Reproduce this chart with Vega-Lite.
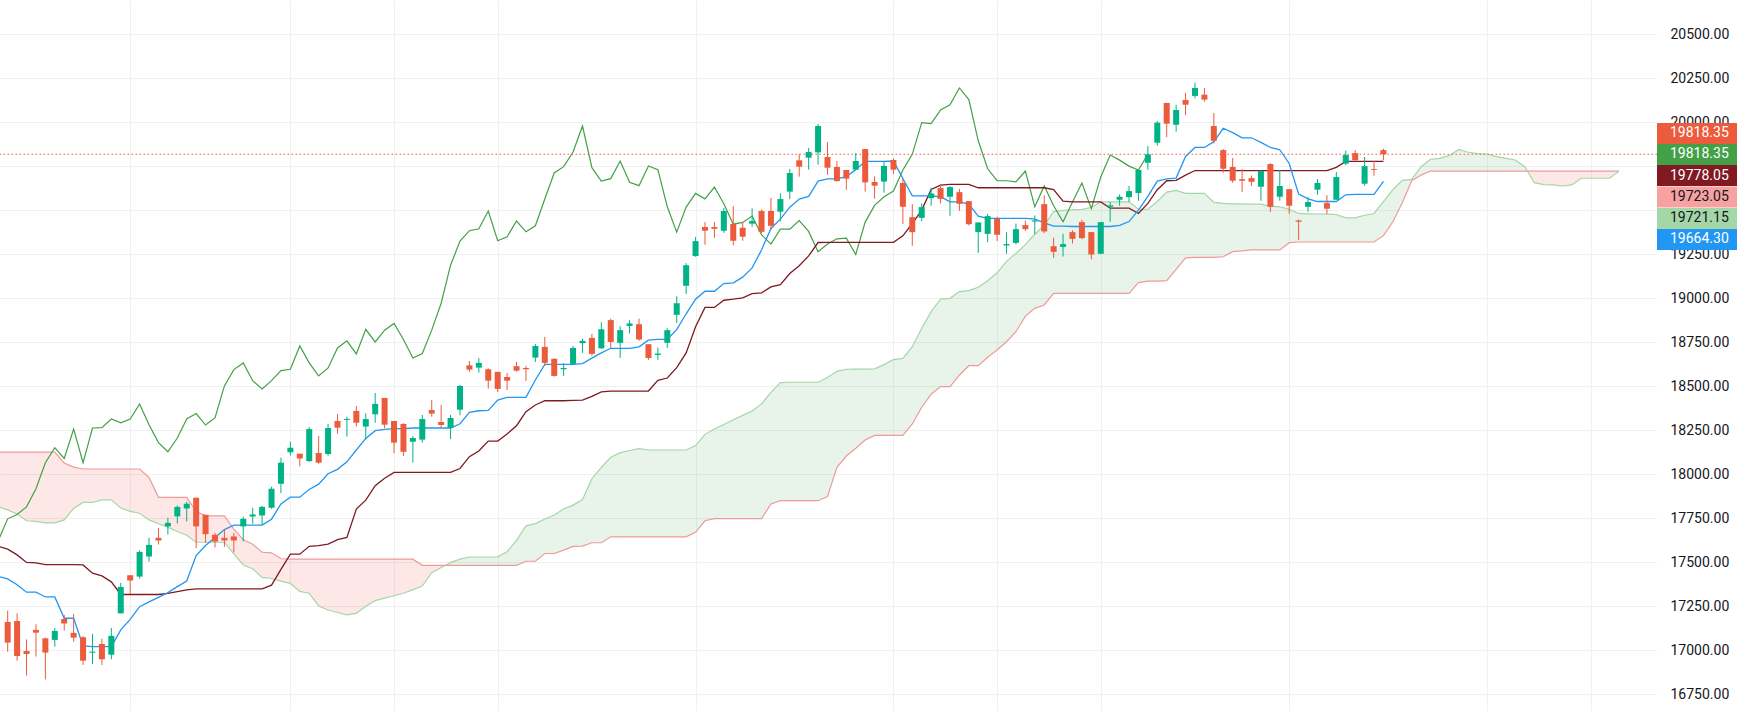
{
"$schema":"https://vega.github.io/schema/vega-lite/v6.json",
"width":1657,"height":711,"autosize":"none",
"padding":{"left":0,"top":0,"right":95,"bottom":0},
"background":"#ffffff",
"config":{"view":{"stroke":null}},
"datasets":{
"candles":[
{"i":0,"o":17161,"h":17226,"l":16992,"c":17044},{"i":1,"o":17167,"h":17210,"l":16941,"c":16968},{"i":2,"o":16996,"h":17062,"l":16856,"c":16979},{"i":3,"o":17116,"h":17148,"l":16964,"c":17100},{"i":4,"o":17068,"h":17072,"l":16835,"c":16987},{"i":5,"o":17059,"h":17127,"l":17021,"c":17110},{"i":6,"o":17178,"h":17201,"l":17112,"c":17152},{"i":7,"o":17099,"h":17207,"l":17049,"c":17072},{"i":8,"o":17074,"h":17081,"l":16917,"c":16941},{"i":9,"o":16986,"h":17093,"l":16922,"c":16992},
{"i":10,"o":17036,"h":17066,"l":16917,"c":16949},{"i":11,"o":16975,"h":17127,"l":16949,"c":17082},{"i":12,"o":17210,"h":17383,"l":17210,"c":17360},{"i":13,"o":17427,"h":17427,"l":17320,"c":17396},{"i":14,"o":17419,"h":17567,"l":17408,"c":17559},{"i":15,"o":17533,"h":17639,"l":17504,"c":17599},{"i":16,"o":17639,"h":17696,"l":17601,"c":17624},{"i":17,"o":17704,"h":17753,"l":17658,"c":17724},{"i":18,"o":17761,"h":17823,"l":17721,"c":17815},{"i":19,"o":17806,"h":17844,"l":17732,"c":17833},
{"i":20,"o":17867,"h":17867,"l":17580,"c":17704},{"i":21,"o":17770,"h":17770,"l":17611,"c":17660},{"i":22,"o":17656,"h":17667,"l":17584,"c":17618},{"i":23,"o":17639,"h":17685,"l":17588,"c":17624},{"i":24,"o":17647,"h":17666,"l":17556,"c":17624},{"i":25,"o":17704,"h":17759,"l":17618,"c":17747},{"i":26,"o":17760,"h":17810,"l":17719,"c":17772},{"i":27,"o":17766,"h":17821,"l":17713,"c":17815},{"i":28,"o":17810,"h":17929,"l":17804,"c":17918},{"i":29,"o":17946,"h":18094,"l":17893,"c":18066},
{"i":30,"o":18125,"h":18185,"l":18107,"c":18151},{"i":31,"o":18117,"h":18117,"l":18045,"c":18090},{"i":32,"o":18075,"h":18269,"l":18070,"c":18257},{"i":33,"o":18121,"h":18217,"l":18060,"c":18066},{"i":34,"o":18115,"h":18286,"l":18106,"c":18263},{"i":35,"o":18303,"h":18343,"l":18231,"c":18265},{"i":36,"o":18309,"h":18327,"l":18214,"c":18315},{"i":37,"o":18360,"h":18388,"l":18271,"c":18293},{"i":38,"o":18271,"h":18346,"l":18198,"c":18314},{"i":39,"o":18341,"h":18462,"l":18293,"c":18400},
{"i":40,"o":18434,"h":18434,"l":18263,"c":18282},{"i":41,"o":18303,"h":18303,"l":18119,"c":18180},{"i":42,"o":18286,"h":18290,"l":18104,"c":18128},{"i":43,"o":18185,"h":18217,"l":18066,"c":18206},{"i":44,"o":18197,"h":18337,"l":18180,"c":18314},{"i":45,"o":18365,"h":18422,"l":18327,"c":18345},{"i":46,"o":18297,"h":18394,"l":18267,"c":18280},{"i":47,"o":18265,"h":18337,"l":18200,"c":18320},{"i":48,"o":18367,"h":18508,"l":18335,"c":18502},{"i":49,"o":18619,"h":18644,"l":18582,"c":18595},
{"i":50,"o":18606,"h":18661,"l":18578,"c":18633},{"i":51,"o":18597,"h":18602,"l":18487,"c":18532},{"i":52,"o":18582,"h":18582,"l":18468,"c":18485},{"i":53,"o":18553,"h":18576,"l":18479,"c":18532},{"i":54,"o":18614,"h":18638,"l":18583,"c":18589},{"i":55,"o":18604,"h":18616,"l":18530,"c":18597},{"i":56,"o":18663,"h":18741,"l":18638,"c":18729},{"i":57,"o":18724,"h":18781,"l":18616,"c":18633},{"i":58,"o":18656,"h":18660,"l":18555,"c":18559},{"i":59,"o":18597,"h":18631,"l":18559,"c":18604},
{"i":60,"o":18627,"h":18729,"l":18627,"c":18718},{"i":61,"o":18745,"h":18769,"l":18690,"c":18758},{"i":62,"o":18775,"h":18798,"l":18673,"c":18684},{"i":63,"o":18716,"h":18864,"l":18712,"c":18824},{"i":64,"o":18876,"h":18885,"l":18718,"c":18752},{"i":65,"o":18747,"h":18841,"l":18661,"c":18819},{"i":66,"o":18843,"h":18876,"l":18800,"c":18857},{"i":67,"o":18853,"h":18885,"l":18758,"c":18766},{"i":68,"o":18739,"h":18739,"l":18650,"c":18661},{"i":69,"o":18678,"h":18720,"l":18650,"c":18686},
{"i":70,"o":18747,"h":18830,"l":18718,"c":18819},{"i":71,"o":18906,"h":19012,"l":18860,"c":18972},{"i":72,"o":19071,"h":19200,"l":19025,"c":19188},{"i":73,"o":19240,"h":19348,"l":19236,"c":19325},{"i":74,"o":19405,"h":19433,"l":19304,"c":19384},{"i":75,"o":19405,"h":19433,"l":19344,"c":19395},{"i":76,"o":19384,"h":19513,"l":19372,"c":19496},{"i":77,"o":19422,"h":19524,"l":19302,"c":19327},{"i":78,"o":19401,"h":19433,"l":19327,"c":19350},{"i":79,"o":19424,"h":19511,"l":19407,"c":19439},
{"i":80,"o":19496,"h":19505,"l":19372,"c":19378},{"i":81,"o":19496,"h":19570,"l":19388,"c":19412},{"i":82,"o":19492,"h":19596,"l":19437,"c":19564},{"i":83,"o":19606,"h":19735,"l":19564,"c":19712},{"i":84,"o":19784,"h":19820,"l":19691,"c":19748},{"i":85,"o":19799,"h":19854,"l":19731,"c":19831},{"i":86,"o":19829,"h":19991,"l":19759,"c":19979},{"i":87,"o":19803,"h":19888,"l":19702,"c":19742},{"i":88,"o":19746,"h":19780,"l":19664,"c":19666},{"i":89,"o":19729,"h":19729,"l":19617,"c":19680},
{"i":90,"o":19731,"h":19826,"l":19731,"c":19780},{"i":91,"o":19848,"h":19848,"l":19606,"c":19659},{"i":92,"o":19661,"h":19693,"l":19566,"c":19640},{"i":93,"o":19663,"h":19778,"l":19600,"c":19752},{"i":94,"o":19786,"h":19795,"l":19706,"c":19731},{"i":95,"o":19655,"h":19681,"l":19423,"c":19520},{"i":96,"o":19461,"h":19535,"l":19298,"c":19376},{"i":97,"o":19457,"h":19539,"l":19438,"c":19518},{"i":98,"o":19569,"h":19628,"l":19526,"c":19596},{"i":99,"o":19626,"h":19649,"l":19539,"c":19565},
{"i":100,"o":19577,"h":19638,"l":19469,"c":19632},{"i":101,"o":19603,"h":19622,"l":19497,"c":19537},{"i":102,"o":19552,"h":19552,"l":19414,"c":19421},{"i":103,"o":19376,"h":19431,"l":19258,"c":19431},{"i":104,"o":19366,"h":19480,"l":19319,"c":19467},{"i":105,"o":19452,"h":19463,"l":19325,"c":19361},{"i":106,"o":19300,"h":19376,"l":19253,"c":19308},{"i":107,"o":19315,"h":19425,"l":19306,"c":19393},{"i":108,"o":19416,"h":19442,"l":19383,"c":19393},{"i":109,"o":19436,"h":19471,"l":19364,"c":19442},
{"i":110,"o":19535,"h":19584,"l":19370,"c":19380},{"i":111,"o":19296,"h":19344,"l":19230,"c":19264},{"i":112,"o":19292,"h":19366,"l":19237,"c":19308},{"i":113,"o":19376,"h":19387,"l":19311,"c":19338},{"i":114,"o":19433,"h":19446,"l":19336,"c":19342},{"i":115,"o":19376,"h":19376,"l":19222,"c":19249},{"i":116,"o":19253,"h":19433,"l":19253,"c":19433},{"i":117,"o":19520,"h":19547,"l":19435,"c":19528},{"i":118,"o":19560,"h":19590,"l":19526,"c":19577},{"i":119,"o":19575,"h":19638,"l":19547,"c":19609},
{"i":120,"o":19598,"h":19729,"l":19554,"c":19729},{"i":121,"o":19770,"h":19865,"l":19730,"c":19818},{"i":122,"o":19884,"h":20007,"l":19867,"c":19998},{"i":123,"o":20110,"h":20110,"l":19916,"c":19992},{"i":124,"o":19986,"h":20100,"l":19947,"c":20070},{"i":125,"o":20127,"h":20167,"l":20041,"c":20100},{"i":126,"o":20150,"h":20225,"l":20136,"c":20195},{"i":127,"o":20157,"h":20195,"l":20117,"c":20129},{"i":128,"o":19979,"h":20053,"l":19880,"c":19895},{"i":129,"o":19842,"h":19848,"l":19715,"c":19736},
{"i":130,"o":19746,"h":19797,"l":19656,"c":19668},{"i":131,"o":19677,"h":19734,"l":19605,"c":19668},{"i":132,"o":19683,"h":19698,"l":19638,"c":19662},{"i":133,"o":19634,"h":19729,"l":19554,"c":19723},{"i":134,"o":19763,"h":19768,"l":19491,"c":19520},{"i":135,"o":19577,"h":19729,"l":19554,"c":19638},{"i":136,"o":19620,"h":19620,"l":19480,"c":19526},{"i":137,"o":19442,"h":19448,"l":19332,"c":19435},{"i":138,"o":19520,"h":19575,"l":19491,"c":19547},{"i":139,"o":19617,"h":19677,"l":19588,"c":19655},
{"i":140,"o":19541,"h":19586,"l":19480,"c":19509},{"i":141,"o":19560,"h":19717,"l":19560,"c":19689},{"i":142,"o":19765,"h":19839,"l":19757,"c":19814},{"i":143,"o":19825,"h":19842,"l":19776,"c":19785},{"i":144,"o":19651,"h":19803,"l":19639,"c":19751},{"i":145,"o":19734,"h":19780,"l":19696,"c":19729},{"i":146,"o":19842,"h":19850,"l":19785,"c":19818.35}
],
"lines":[
{"i":-1,"t":17420,"k":17590},{"i":0,"t":17406,"k":17575},{"i":1,"t":17372,"k":17542},{"i":2,"t":17330,"k":17499},{"i":3,"t":17330,"k":17497},{"i":4,"t":17303,"k":17487},{"i":5,"t":17303,"k":17487},{"i":6,"t":17182,"k":17487},{"i":7,"t":17182,"k":17487},{"i":8,"t":17025,"k":17485},{"i":9,"t":17021,"k":17438},
{"i":10,"t":17021,"k":17423},{"i":11,"t":17021,"k":17389},{"i":12,"t":17116,"k":17317},{"i":13,"t":17176,"k":17317},{"i":14,"t":17248,"k":17317},{"i":15,"t":17275,"k":17317},{"i":16,"t":17301,"k":17317},{"i":17,"t":17328,"k":17324},{"i":18,"t":17362,"k":17334},{"i":19,"t":17394,"k":17343},
{"i":20,"t":17538,"k":17349},{"i":21,"t":17595,"k":17349},{"i":22,"t":17641,"k":17349},{"i":23,"t":17686,"k":17349},{"i":24,"t":17711,"k":17349},{"i":25,"t":17711,"k":17349},{"i":26,"t":17711,"k":17349},{"i":27,"t":17711,"k":17349},{"i":28,"t":17745,"k":17370},{"i":29,"t":17832,"k":17460},
{"i":30,"t":17870,"k":17546},{"i":31,"t":17870,"k":17546},{"i":32,"t":17914,"k":17591},{"i":33,"t":17944,"k":17595},{"i":34,"t":18003,"k":17603},{"i":35,"t":18028,"k":17629},{"i":36,"t":18071,"k":17641},{"i":37,"t":18138,"k":17802},{"i":38,"t":18204,"k":17853},{"i":39,"t":18248,"k":17935},
{"i":40,"t":18255,"k":17978},{"i":41,"t":18259,"k":18011},{"i":42,"t":18259,"k":18011},{"i":43,"t":18263,"k":18011},{"i":44,"t":18263,"k":18011},{"i":45,"t":18263,"k":18011},{"i":46,"t":18263,"k":18011},{"i":47,"t":18263,"k":18011},{"i":48,"t":18287,"k":18033},{"i":49,"t":18352,"k":18100},
{"i":50,"t":18361,"k":18132},{"i":51,"t":18363,"k":18189},{"i":52,"t":18422,"k":18189},{"i":53,"t":18437,"k":18229},{"i":54,"t":18437,"k":18276},{"i":55,"t":18437,"k":18356},{"i":56,"t":18536,"k":18394},{"i":57,"t":18625,"k":18418},{"i":58,"t":18625,"k":18418},{"i":59,"t":18625,"k":18418},
{"i":60,"t":18625,"k":18420},{"i":61,"t":18629,"k":18422},{"i":62,"t":18660,"k":18443},{"i":63,"t":18690,"k":18468},{"i":64,"t":18716,"k":18473},{"i":65,"t":18716,"k":18473},{"i":66,"t":18716,"k":18473},{"i":67,"t":18724,"k":18473},{"i":68,"t":18762,"k":18473},{"i":69,"t":18767,"k":18534},
{"i":70,"t":18767,"k":18547},{"i":71,"t":18822,"k":18606},{"i":72,"t":18912,"k":18690},{"i":73,"t":18995,"k":18838},{"i":74,"t":19040,"k":18948},{"i":75,"t":19040,"k":18948},{"i":76,"t":19084,"k":18989},{"i":77,"t":19088,"k":18995},{"i":78,"t":19120,"k":19003},{"i":79,"t":19173,"k":19027},
{"i":80,"t":19274,"k":19031},{"i":81,"t":19397,"k":19065},{"i":82,"t":19450,"k":19078},{"i":83,"t":19518,"k":19141},{"i":84,"t":19564,"k":19185},{"i":85,"t":19579,"k":19241},{"i":86,"t":19666,"k":19317},{"i":87,"t":19678,"k":19318},{"i":88,"t":19678,"k":19318},{"i":89,"t":19691,"k":19318},
{"i":90,"t":19731,"k":19318},{"i":91,"t":19778,"k":19318},{"i":92,"t":19778,"k":19318},{"i":93,"t":19778,"k":19318},{"i":94,"t":19780,"k":19318},{"i":95,"t":19681,"k":19355},{"i":96,"t":19582,"k":19425},{"i":97,"t":19582,"k":19501},{"i":98,"t":19582,"k":19618},{"i":99,"t":19577,"k":19643},
{"i":100,"t":19548,"k":19647},{"i":101,"t":19548,"k":19647},{"i":102,"t":19535,"k":19647},{"i":103,"t":19467,"k":19628},{"i":104,"t":19454,"k":19628},{"i":105,"t":19454,"k":19628},{"i":106,"t":19454,"k":19628},{"i":107,"t":19454,"k":19628},{"i":108,"t":19454,"k":19628},{"i":109,"t":19450,"k":19628},
{"i":110,"t":19429,"k":19628},{"i":111,"t":19410,"k":19617},{"i":112,"t":19410,"k":19552},{"i":113,"t":19408,"k":19548},{"i":114,"t":19408,"k":19548},{"i":115,"t":19408,"k":19548},{"i":116,"t":19408,"k":19548},{"i":117,"t":19408,"k":19512},{"i":118,"t":19414,"k":19512},{"i":119,"t":19436,"k":19512},
{"i":120,"t":19501,"k":19482},{"i":121,"t":19579,"k":19539},{"i":122,"t":19666,"k":19617},{"i":123,"t":19679,"k":19668},{"i":124,"t":19683,"k":19670},{"i":125,"t":19806,"k":19700},{"i":126,"t":19857,"k":19726},{"i":127,"t":19857,"k":19726},{"i":128,"t":19890,"k":19726},{"i":129,"t":19966,"k":19726},
{"i":130,"t":19941,"k":19726},{"i":131,"t":19912,"k":19726},{"i":132,"t":19912,"k":19726},{"i":133,"t":19886,"k":19726},{"i":134,"t":19857,"k":19726},{"i":135,"t":19844,"k":19726},{"i":136,"t":19766,"k":19726},{"i":137,"t":19592,"k":19726},{"i":138,"t":19565,"k":19726},{"i":139,"t":19550,"k":19726},
{"i":140,"t":19550,"k":19726},{"i":141,"t":19550,"k":19744},{"i":142,"t":19588,"k":19778.05},{"i":143,"t":19590,"k":19778.05},{"i":144,"t":19590,"k":19778.05},{"i":145,"t":19590,"k":19778.05},{"i":146,"t":19664.3,"k":19778.05}
],
"cloud":[
{"i":-1,"a":17815,"b":18126},{"i":0,"a":17798,"b":18126},{"i":1,"a":17774,"b":18126},{"i":2,"a":17736,"b":18126},{"i":3,"a":17732,"b":18126},{"i":4,"a":17724,"b":18126},{"i":5,"a":17724,"b":18126},{"i":6,"a":17741,"b":18064},{"i":7,"a":17806,"b":18041},{"i":8,"a":17840,"b":18030},{"i":9,"a":17840,"b":18030},
{"i":10,"a":17855,"b":18030},{"i":11,"a":17855,"b":18030},{"i":12,"a":17808,"b":18030},{"i":13,"a":17789,"b":18030},{"i":14,"a":17779,"b":18030},{"i":15,"a":17741,"b":17982},{"i":16,"a":17719,"b":17869},{"i":17,"a":17700,"b":17869},{"i":18,"a":17675,"b":17869},{"i":19,"a":17654,"b":17869},
{"i":20,"a":17614,"b":17789},{"i":21,"a":17614,"b":17764},{"i":22,"a":17614,"b":17764},{"i":23,"a":17614,"b":17764},{"i":24,"a":17548,"b":17688},{"i":25,"a":17485,"b":17628},{"i":26,"a":17463,"b":17603},{"i":27,"a":17414,"b":17557},{"i":28,"a":17408,"b":17554},{"i":29,"a":17393,"b":17520},
{"i":30,"a":17380,"b":17518},{"i":31,"a":17335,"b":17518},{"i":32,"a":17324,"b":17518},{"i":33,"a":17252,"b":17518},{"i":34,"a":17229,"b":17518},{"i":35,"a":17215,"b":17518},{"i":36,"a":17201,"b":17518},{"i":37,"a":17210,"b":17518},{"i":38,"a":17250,"b":17518},{"i":39,"a":17282,"b":17518},
{"i":40,"a":17296,"b":17518},{"i":41,"a":17310,"b":17518},{"i":42,"a":17324,"b":17518},{"i":43,"a":17345,"b":17518},{"i":44,"a":17365,"b":17483},{"i":45,"a":17441,"b":17483},{"i":46,"a":17470,"b":17483},{"i":46.46,"a":17483,"b":17483},{"i":47,"a":17498,"b":17483},{"i":48,"a":17518,"b":17483},{"i":49,"a":17530,"b":17483},
{"i":50,"a":17530,"b":17483},{"i":51,"a":17530,"b":17483},{"i":52,"a":17531,"b":17483},{"i":53,"a":17560,"b":17483},{"i":54,"a":17625,"b":17483},{"i":55,"a":17707,"b":17506},{"i":56,"a":17720,"b":17506},{"i":57,"a":17746,"b":17550},{"i":58,"a":17769,"b":17550},{"i":59,"a":17803,"b":17569},
{"i":60,"a":17825,"b":17590},{"i":61,"a":17857,"b":17592},{"i":62,"a":17975,"b":17611},{"i":63,"a":18039,"b":17611},{"i":64,"a":18097,"b":17645},{"i":65,"a":18123,"b":17645},{"i":66,"a":18135,"b":17645},{"i":67,"a":18146,"b":17645},{"i":68,"a":18138,"b":17645},{"i":69,"a":18138,"b":17645},
{"i":70,"a":18138,"b":17645},{"i":71,"a":18138,"b":17645},{"i":72,"a":18138,"b":17645},{"i":73,"a":18163,"b":17670},{"i":74,"a":18227,"b":17736},{"i":75,"a":18257,"b":17748},{"i":76,"a":18283,"b":17748},{"i":77,"a":18310,"b":17748},{"i":78,"a":18335,"b":17748},{"i":79,"a":18360,"b":17748},
{"i":80,"a":18400,"b":17748},{"i":81,"a":18466,"b":17831},{"i":82,"a":18521,"b":17850},{"i":83,"a":18523,"b":17850},{"i":84,"a":18523,"b":17850},{"i":85,"a":18523,"b":17850},{"i":86,"a":18523,"b":17850},{"i":87,"a":18550,"b":17873},{"i":88,"a":18585,"b":18040},{"i":89,"a":18597,"b":18104},
{"i":90,"a":18598,"b":18148},{"i":91,"a":18598,"b":18195},{"i":92,"a":18599,"b":18221},{"i":93,"a":18623,"b":18221},{"i":94,"a":18652,"b":18221},{"i":95,"a":18659,"b":18221},{"i":96,"a":18725,"b":18286},{"i":97,"a":18830,"b":18381},{"i":98,"a":18924,"b":18455},{"i":99,"a":18996,"b":18498},
{"i":100,"a":19000,"b":18498},{"i":101,"a":19038,"b":18563},{"i":102,"a":19044,"b":18617},{"i":103,"a":19063,"b":18617},{"i":104,"a":19100,"b":18665},{"i":105,"a":19145,"b":18706},{"i":106,"a":19210,"b":18753},{"i":107,"a":19255,"b":18810},{"i":108,"a":19305,"b":18899},{"i":109,"a":19364,"b":18943},
{"i":110,"a":19415,"b":18962},{"i":111,"a":19493,"b":19028},{"i":112,"a":19500,"b":19028},{"i":113,"a":19503,"b":19028},{"i":114,"a":19505,"b":19028},{"i":115,"a":19516,"b":19028},{"i":116,"a":19548,"b":19028},{"i":117,"a":19548,"b":19028},{"i":118,"a":19548,"b":19028},{"i":119,"a":19548,"b":19028},
{"i":120,"a":19506,"b":19089},{"i":121,"a":19506,"b":19098},{"i":122,"a":19550,"b":19098},{"i":123,"a":19603,"b":19100},{"i":124,"a":19613,"b":19165},{"i":125,"a":19596,"b":19230},{"i":126,"a":19596,"b":19233},{"i":127,"a":19596,"b":19233},{"i":128,"a":19545,"b":19233},{"i":129,"a":19539,"b":19236},
{"i":130,"a":19537,"b":19265},{"i":131,"a":19536,"b":19270},{"i":132,"a":19535,"b":19275},{"i":133,"a":19535,"b":19275},{"i":134,"a":19524,"b":19275},{"i":135,"a":19520,"b":19275},{"i":136,"a":19505,"b":19316},{"i":137,"a":19482,"b":19320},{"i":138,"a":19480,"b":19320},{"i":139,"a":19479,"b":19320},
{"i":140,"a":19478,"b":19320},{"i":141,"a":19476,"b":19320},{"i":142,"a":19457,"b":19320},{"i":143,"a":19457,"b":19320},{"i":144,"a":19472,"b":19320},{"i":145,"a":19482,"b":19320},{"i":146,"a":19549,"b":19356},{"i":147,"a":19617,"b":19435},{"i":148,"a":19670,"b":19543},{"i":149,"a":19676,"b":19668},
{"i":150,"a":19748,"b":19700},{"i":151,"a":19790,"b":19723.05},{"i":152,"a":19795,"b":19723.05},{"i":153,"a":19812,"b":19723.05},{"i":154,"a":19846,"b":19723.05},{"i":155,"a":19830,"b":19723.05},{"i":156,"a":19822,"b":19723.05},{"i":157,"a":19820,"b":19723.05},{"i":158,"a":19805,"b":19723.05},{"i":159,"a":19795,"b":19723.05},
{"i":160,"a":19786,"b":19723.05},{"i":161,"a":19748,"b":19723.05},{"i":161.27,"a":19723.05,"b":19723.05},{"i":162,"a":19657,"b":19723.05},{"i":163,"a":19646,"b":19723.05},{"i":164,"a":19644,"b":19723.05},{"i":165,"a":19638,"b":19723.05},{"i":166,"a":19644,"b":19723.05},{"i":167,"a":19682,"b":19723.05},{"i":168,"a":19682,"b":19723.05},{"i":169,"a":19682,"b":19723.05},
{"i":170,"a":19682,"b":19723.05},{"i":171,"a":19721.15,"b":19723.05}
],
"chikou":[
{"i":-1,"v":17624},{"i":0,"v":17747},{"i":1,"v":17772},{"i":2,"v":17815},{"i":3,"v":17918},{"i":4,"v":18066},{"i":5,"v":18151},{"i":6,"v":18090},{"i":7,"v":18257},{"i":8,"v":18066},{"i":9,"v":18263},
{"i":10,"v":18265},{"i":11,"v":18314},{"i":12,"v":18293},{"i":13,"v":18314},{"i":14,"v":18400},{"i":15,"v":18282},{"i":16,"v":18180},{"i":17,"v":18128},{"i":18,"v":18206},{"i":19,"v":18314},
{"i":20,"v":18345},{"i":21,"v":18280},{"i":22,"v":18320},{"i":23,"v":18502},{"i":24,"v":18595},{"i":25,"v":18633},{"i":26,"v":18532},{"i":27,"v":18485},{"i":28,"v":18532},{"i":29,"v":18589},
{"i":30,"v":18597},{"i":31,"v":18729},{"i":32,"v":18633},{"i":33,"v":18559},{"i":34,"v":18604},{"i":35,"v":18718},{"i":36,"v":18758},{"i":37,"v":18684},{"i":38,"v":18824},{"i":39,"v":18752},
{"i":40,"v":18819},{"i":41,"v":18857},{"i":42,"v":18766},{"i":43,"v":18661},{"i":44,"v":18686},{"i":45,"v":18819},{"i":46,"v":18972},{"i":47,"v":19188},{"i":48,"v":19325},{"i":49,"v":19384},
{"i":50,"v":19395},{"i":51,"v":19496},{"i":52,"v":19327},{"i":53,"v":19350},{"i":54,"v":19439},{"i":55,"v":19378},{"i":56,"v":19412},{"i":57,"v":19564},{"i":58,"v":19712},{"i":59,"v":19748},
{"i":60,"v":19831},{"i":61,"v":19979},{"i":62,"v":19742},{"i":63,"v":19666},{"i":64,"v":19680},{"i":65,"v":19780},{"i":66,"v":19659},{"i":67,"v":19640},{"i":68,"v":19752},{"i":69,"v":19731},
{"i":70,"v":19520},{"i":71,"v":19376},{"i":72,"v":19518},{"i":73,"v":19596},{"i":74,"v":19565},{"i":75,"v":19632},{"i":76,"v":19537},{"i":77,"v":19421},{"i":78,"v":19431},{"i":79,"v":19467},
{"i":80,"v":19361},{"i":81,"v":19308},{"i":82,"v":19393},{"i":83,"v":19393},{"i":84,"v":19442},{"i":85,"v":19380},{"i":86,"v":19264},{"i":87,"v":19308},{"i":88,"v":19338},{"i":89,"v":19342},
{"i":90,"v":19249},{"i":91,"v":19433},{"i":92,"v":19528},{"i":93,"v":19577},{"i":94,"v":19609},{"i":95,"v":19729},{"i":96,"v":19818},{"i":97,"v":19998},{"i":98,"v":19992},{"i":99,"v":20070},
{"i":100,"v":20100},{"i":101,"v":20195},{"i":102,"v":20129},{"i":103,"v":19895},{"i":104,"v":19736},{"i":105,"v":19668},{"i":106,"v":19668},{"i":107,"v":19662},{"i":108,"v":19723},{"i":109,"v":19520},
{"i":110,"v":19638},{"i":111,"v":19526},{"i":112,"v":19435},{"i":113,"v":19547},{"i":114,"v":19655},{"i":115,"v":19509},{"i":116,"v":19689},{"i":117,"v":19814},{"i":118,"v":19785},{"i":119,"v":19751},
{"i":120,"v":19729},{"i":121,"v":19818.35}
],
"tags":[
{"series":"Close","v":19818.35},{"series":"Lagging Span","v":19818.35},{"series":"Base Line","v":19778.05},{"series":"Leading Span B","v":19723.05},{"series":"Leading Span A","v":19721.15},{"series":"Conversion Line","v":19664.3}
]
},
"layer":[
{"data":{"name":"cloud"},"transform":[{"filter":"datum.i <= 46.46"}],
 "mark":{"type":"area","color":"#F44336","opacity":0.12,"clip":true},
 "encoding":{"x":{"field":"i","type":"quantitative","scale":{"domain":[-0.285,174.5],"nice":false,"zero":false},"axis":{"values":[13,30,41,52,73,94,105,116,136,157,168],"labels":false,"ticks":false,"domain":false,"grid":true,"gridColor":"#F0F0F0","title":null}},
  "y":{"field":"a","type":"quantitative","scale":{"domain":[16655.1,20694.9],"nice":false,"zero":false},"axis":{"orient":"right","values":[16750,17000,17250,17500,17750,18000,18250,18500,18750,19000,19250,19500,19750,20000,20250,20500],"labelExpr":"datum.value == 19500 || datum.value == 19750 ? '' : format(datum.value, '.2f')","title":null,"ticks":false,"domain":false,"labelPadding":13,"labelFontSize":14,"labelFont":"Roboto","labelColor":"#131722","gridColor":"#F0F0F0"}},
  "y2":{"field":"b"}}},
{"data":{"name":"cloud"},"transform":[{"filter":"datum.i >= 46.46 && datum.i <= 161.27"}],
 "mark":{"type":"area","color":"#43A047","opacity":0.12,"clip":true},
 "encoding":{"x":{"field":"i","type":"quantitative"},"y":{"field":"a","type":"quantitative"},"y2":{"field":"b"}}},
{"data":{"name":"cloud"},"transform":[{"filter":"datum.i >= 161.27"}],
 "mark":{"type":"area","color":"#F44336","opacity":0.12,"clip":true},
 "encoding":{"x":{"field":"i","type":"quantitative"},"y":{"field":"a","type":"quantitative"},"y2":{"field":"b"}}},
{"data":{"name":"cloud"},"mark":{"type":"line","color":"#A5D6A7","strokeWidth":1.2,"clip":true},
 "encoding":{"x":{"field":"i","type":"quantitative"},"y":{"field":"a","type":"quantitative"}}},
{"data":{"name":"cloud"},"mark":{"type":"line","color":"#EF9A9A","strokeWidth":1.2,"clip":true},
 "encoding":{"x":{"field":"i","type":"quantitative"},"y":{"field":"b","type":"quantitative"}}},
{"data":{"name":"chikou"},"mark":{"type":"line","color":"#43A047","strokeWidth":1.2,"clip":true},
 "encoding":{"x":{"field":"i","type":"quantitative"},"y":{"field":"v","type":"quantitative"}}},
{"data":{"name":"lines"},"mark":{"type":"line","color":"#801922","strokeWidth":1.3,"clip":true},
 "encoding":{"x":{"field":"i","type":"quantitative"},"y":{"field":"k","type":"quantitative"}}},
{"data":{"name":"lines"},"mark":{"type":"line","color":"#2196F3","strokeWidth":1.3,"clip":true},
 "encoding":{"x":{"field":"i","type":"quantitative"},"y":{"field":"t","type":"quantitative"}}},
{"data":{"name":"tags"},"transform":[{"filter":"datum.series === 'Close'"}],
 "mark":{"type":"rule","color":"#EB5B3C","strokeDash":[1.5,2.5],"strokeWidth":1,"clip":true},
 "encoding":{"y":{"field":"v","type":"quantitative"}}},
{"data":{"name":"candles"},"mark":{"type":"rule","strokeWidth":1,"clip":true},
 "encoding":{"x":{"field":"i","type":"quantitative"},"y":{"field":"l","type":"quantitative"},"y2":{"field":"h"},
  "color":{"condition":{"test":"datum.c >= datum.o","value":"#00B386"},"value":"#EB5B3C"}}},
{"data":{"name":"candles"},"mark":{"type":"bar","width":6,"clip":true},
 "encoding":{"x":{"field":"i","type":"quantitative"},"y":{"field":"o","type":"quantitative"},"y2":{"field":"c"},
  "color":{"condition":{"test":"datum.c >= datum.o","value":"#00B386"},"value":"#EB5B3C"}}},
{"data":{"name":"tags"},"transform":[{"filter":"datum.series === 'Close'"}],
 "layer":[
  {"mark":{"type":"rect","color":"#EB5B3C","yOffset":-31.3,"y2Offset":-10.3,"x2Offset":80},"encoding":{"x":{"value":"width"},"x2":{"value":"width"},"y":{"field":"v","type":"quantitative"},"y2":{"field":"v"}}},
  {"mark":{"type":"text","color":"#ffffff","align":"left","baseline":"middle","dx":13,"yOffset":-20.8,"fontSize":14,"font":"Roboto"},"encoding":{"x":{"value":"width"},"y":{"field":"v","type":"quantitative"},"text":{"field":"v","type":"quantitative","format":".2f"}}}
 ]},
{"data":{"name":"tags"},"transform":[{"filter":"datum.series === 'Lagging Span'"}],
 "layer":[
  {"mark":{"type":"rect","color":"#43A047","yOffset":-10.3,"y2Offset":10.7,"x2Offset":80},"encoding":{"x":{"value":"width"},"x2":{"value":"width"},"y":{"field":"v","type":"quantitative"},"y2":{"field":"v"}}},
  {"mark":{"type":"text","color":"#ffffff","align":"left","baseline":"middle","dx":13,"yOffset":0.2,"fontSize":14,"font":"Roboto"},"encoding":{"x":{"value":"width"},"y":{"field":"v","type":"quantitative"},"text":{"field":"v","type":"quantitative","format":".2f"}}}
 ]},
{"data":{"name":"tags"},"transform":[{"filter":"datum.series === 'Base Line'"}],
 "layer":[
  {"mark":{"type":"rect","color":"#801922","yOffset":3.7,"y2Offset":24.7,"x2Offset":80},"encoding":{"x":{"value":"width"},"x2":{"value":"width"},"y":{"field":"v","type":"quantitative"},"y2":{"field":"v"}}},
  {"mark":{"type":"text","color":"#ffffff","align":"left","baseline":"middle","dx":13,"yOffset":14.2,"fontSize":14,"font":"Roboto"},"encoding":{"x":{"value":"width"},"y":{"field":"v","type":"quantitative"},"text":{"field":"v","type":"quantitative","format":".2f"}}}
 ]},
{"data":{"name":"tags"},"transform":[{"filter":"datum.series === 'Leading Span B'"}],
 "layer":[
  {"mark":{"type":"rect","color":"#F7A1A1","yOffset":15.5,"y2Offset":36.5,"x2Offset":80},"encoding":{"x":{"value":"width"},"x2":{"value":"width"},"y":{"field":"v","type":"quantitative"},"y2":{"field":"v"}}},
  {"mark":{"type":"text","color":"#131722","align":"left","baseline":"middle","dx":13,"yOffset":26,"fontSize":14,"font":"Roboto"},"encoding":{"x":{"value":"width"},"y":{"field":"v","type":"quantitative"},"text":{"field":"v","type":"quantitative","format":".2f"}}}
 ]},
{"data":{"name":"tags"},"transform":[{"filter":"datum.series === 'Leading Span A'"}],
 "layer":[
  {"mark":{"type":"rect","color":"#A5D6A7","yOffset":36.6,"y2Offset":57.6,"x2Offset":80},"encoding":{"x":{"value":"width"},"x2":{"value":"width"},"y":{"field":"v","type":"quantitative"},"y2":{"field":"v"}}},
  {"mark":{"type":"text","color":"#131722","align":"left","baseline":"middle","dx":13,"yOffset":47.1,"fontSize":14,"font":"Roboto"},"encoding":{"x":{"value":"width"},"y":{"field":"v","type":"quantitative"},"text":{"field":"v","type":"quantitative","format":".2f"}}}
 ]},
{"data":{"name":"tags"},"transform":[{"filter":"datum.series === 'Conversion Line'"}],
 "layer":[
  {"mark":{"type":"rect","color":"#2196F3","yOffset":47.6,"y2Offset":68.6,"x2Offset":80},"encoding":{"x":{"value":"width"},"x2":{"value":"width"},"y":{"field":"v","type":"quantitative"},"y2":{"field":"v"}}},
  {"mark":{"type":"text","color":"#ffffff","align":"left","baseline":"middle","dx":13,"yOffset":58.1,"fontSize":14,"font":"Roboto"},"encoding":{"x":{"value":"width"},"y":{"field":"v","type":"quantitative"},"text":{"field":"v","type":"quantitative","format":".2f"}}}
 ]}
]
}
